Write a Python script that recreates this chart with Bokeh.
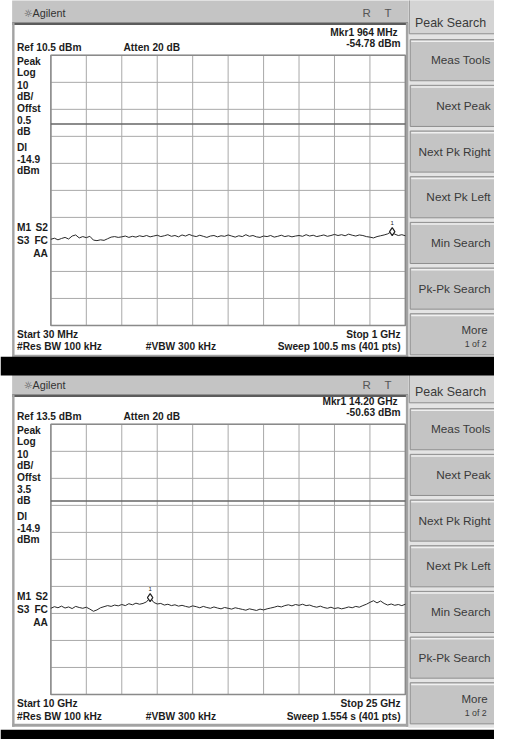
import numpy as np
from bokeh.plotting import figure
from bokeh.models import Range1d
from bokeh.core.properties import value
from bokeh.embed import file_html
from bokeh.resources import INLINE

# ---------------- data (read from the two analyzer screens) ----------------
start_mhz = [30.0, 10000.0]
stop_mhz = [1000.0, 25000.0]
ref_dbm = [10.5, 13.5]
db_per_div = [10.0, 10.0]
display_line_dbm = [-14.9, -14.9]
marker_mhz = [964.0, 14200.0]
marker_dbm = [-54.78, -50.63]

ref_labels = ["Ref 10.5 dBm", "Ref 13.5 dBm"]
atten_labels = ["Atten 20 dB", "Atten 20 dB"]
mkr_labels = ["Mkr1  964 MHz", "Mkr1  14.20 GHz"]
mkr_value_labels = ["-54.78 dBm", "-50.63 dBm"]
offset_labels = ["0.5", "3.5"]
start_labels = ["Start 30 MHz", "Start 10 GHz"]
stop_labels = ["Stop 1 GHz", "Stop 25 GHz"]
rbw_labels = ["#Res BW 100 kHz", "#Res BW 100 kHz"]
vbw_labels = ["#VBW 300 kHz", "#VBW 300 kHz"]
sweep_labels = ["Sweep 100.5 ms (401 pts)", "Sweep 1.554 s (401 pts)"]

trace1_dbm = [
    -57.6, -57.2, -57.8, -57.3, -56.9, -57.5, -56.4, -56.0, -57.1, -56.6,
    -57.0, -56.5, -57.9, -58.1, -57.8, -58.0, -57.4, -56.8, -56.6, -56.9,
    -56.7, -56.4, -56.9, -56.5, -56.8, -56.3, -56.6, -56.2, -56.7, -56.4,
    -56.1, -56.6, -56.3, -55.9, -56.5, -56.2, -56.7, -56.0, -56.4, -55.8,
    -56.3, -56.6, -56.1, -56.5, -56.9, -56.4, -56.2, -56.7, -56.3, -56.5,
    -56.0, -56.4, -56.8, -56.3, -56.6, -55.9, -56.5, -56.2, -56.7, -56.9,
    -56.4, -56.6, -56.2, -56.8, -56.5, -56.1, -56.6, -56.3, -56.7, -56.4,
    -56.2, -56.5, -55.9, -56.4, -56.1, -56.6, -56.3, -56.0, -56.5, -56.2,
    -55.8, -56.2, -55.9, -56.3, -55.7, -56.1, -56.4, -56.0, -56.2, -56.6,
    -56.8, -57.1, -56.6, -56.3, -56.0, -55.6, -54.8, -55.7, -56.2, -55.9,
    -56.3,
]
trace2_dbm = [
    -54.6, -54.0, -54.4, -53.8, -54.5, -54.1, -54.7, -53.9, -54.3, -54.6,
    -54.2, -54.9, -55.7, -55.2, -54.4, -54.0, -53.6, -53.9, -53.4, -53.7,
    -53.2, -53.6, -52.9, -53.3, -52.7, -53.1, -52.8, -52.2, -50.6, -52.4,
    -53.0, -52.8, -53.4, -53.1, -53.6, -53.3, -53.8, -53.5, -53.9, -54.2,
    -53.7, -54.0, -54.4, -53.9, -54.3, -54.6, -54.1, -54.5, -54.8, -54.3,
    -54.6, -54.9, -54.4, -54.7, -55.0, -55.3, -54.8, -55.1, -55.4, -54.9,
    -55.2, -54.8, -54.5, -54.2, -53.8, -54.1, -53.6, -53.3, -53.7, -53.2,
    -53.5, -53.1, -53.6, -53.4, -53.9, -54.2, -53.8, -54.3, -54.6, -54.2,
    -54.7, -54.4, -54.8, -54.5, -54.1, -54.4, -53.9, -54.2, -53.6, -53.1,
    -52.4, -51.8, -52.6, -51.9, -52.8, -53.4, -53.0, -53.5, -53.2, -53.6,
    -53.1,
]
traces = [trace1_dbm, trace2_dbm]

softkeys = ["Meas Tools", "Next Peak", "Next Pk Right", "Next Pk Left",
            "Min Search", "Pk-Pk Search"]
left_labels_top = ["Peak", "Log", "10", "dB/", "Offst"]
left_labels_dl = ["Dl", "-14.9", "dBm"]

# ---------------- layout (reference pixel space 510 x 755) ----------------
W, H = 510, 755
PW, PH = 494, 739
SCREEN_DY = [0, 377]
TITLE_Y = [13, 16]
GRID_L, GRID_R = 52, 418
GRID_T, GRID_B = 56, 332
BLACK_BANDS = [(364, 383), (745, 755)]

FONT = value("Liberation Sans")
ICON_FONT = value("DejaVu Sans")
TXT = "#1c1c1c"
BOLD_SIZE = 10.2
KEY_SIZE = 11.8

p = figure(width=PW, height=PH, x_range=Range1d(0, W), y_range=Range1d(H, 0),
           output_backend="svg", toolbar_location=None, min_border=0,
           background_fill_color="white", border_fill_color="white")
p.axis.visible = False
p.grid.visible = False
p.outline_line_color = None


def box(l, r, t, b, fill, line=None, lw=1):
    p.quad(left=l, right=r, top=t, bottom=b, fill_color=fill,
           line_color=line, line_width=lw)


def label(x, y, t, size=BOLD_SIZE, bold=True, align="left", color=TXT, font=FONT):
    p.text(x=[x], y=[y], text=[t], text_font=font, text_font_size=f"{size}px",
           text_font_style="bold" if bold else "normal", text_align=align,
           text_baseline="middle", text_color=color)


for k in range(2):
    dy = SCREEN_DY[k]
    ty = TITLE_Y[k]
    # frame of the screen
    box(0, W, dy - 10, dy + 366, "#ffffff")
    box(12, 421, dy - 10, dy + ty + 10, "#c4c4c4")
    box(12, 421, dy + ty + 9.5, dy + ty + 12, "#5c5c5c")
    box(12, 14.5, dy + ty + 10, dy + 365, "#a3a3a3")
    box(418.5, 422, dy + ty + 10, dy + 365, "#a3a3a3")
    box(12, 421, dy + 362, dy + 365, "#a3a3a3")
    # softkey panel
    box(421, W, dy - 10, dy + 366, "#e4e4e4")
    box(422, W + 2, dy - 10, dy + 34, "#d4d4d4", "#8f8f8f", 1)
    label(428, dy + 23, "Peak Search", size=12.4, bold=False, color="#3a3a3a")
    for i in range(7):
        bt = dy + 40 + i * 46.67
        box(423, W + 2, bt, bt + 42, "#c4c4c4", "#8e8e8e", 1)
        box(424, W + 2, bt + 1, bt + 2.5, "#f0f0f0")
        if i < 6:
            label(506, bt + 21, softkeys[i], size=KEY_SIZE, bold=False,
                  align="right", color="#3a3a3a")
        else:
            label(503, bt + 17, "More", size=11.5, bold=False, align="right",
                  color="#3a3a3a")
            label(502, bt + 31, "1 of 2", size=8.8, bold=False, align="right",
                  color="#3a3a3a")

    # title bar texts
    label(24, dy + ty, "\u263c", size=10, bold=False, color="#555555", font=ICON_FONT)
    label(33, dy + ty, "Agilent", size=10.8, bold=False, color="#333333")
    label(378, dy + ty, "R", size=11.5, bold=False, color="#555555", align="center")
    label(400, dy + ty, "T", size=11.5, bold=False, color="#555555", align="center")

    # annotation texts
    label(413, dy + 33, mkr_labels[k], align="right")
    label(413, dy + 44, mkr_value_labels[k], align="right")
    label(17, dy + 48, ref_labels[k])
    label(127, dy + 48, atten_labels[k])
    ys_top = [62, 74, 86, 98, 110]
    for t, yy in zip(left_labels_top, ys_top):
        label(17, dy + yy, t)
    label(17, dy + 122, offset_labels[k])
    label(17, dy + 134, "dB")
    for t, yy in zip(left_labels_dl, [150, 162, 174]):
        label(17, dy + yy, t)
    label(17, dy + 232, "M1")
    label(49, dy + 232, "S2", align="right")
    label(17, dy + 245, "S3")
    label(49, dy + 245, "FC", align="right")
    label(49, dy + 258, "AA", align="right")
    label(17, dy + 341, start_labels[k])
    label(17, dy + 354, rbw_labels[k])
    label(150, dy + 354, vbw_labels[k])
    label(413, dy + 341, stop_labels[k], align="right")
    label(413, dy + 354, sweep_labels[k], align="right")

    # data ranges mapped onto the graticule
    f0, f1 = start_mhz[k], stop_mhz[k]
    ref = ref_dbm[k]
    span_db = 10 * db_per_div[k]
    fx = lambda px: f0 + (px - GRID_L) / (GRID_R - GRID_L) * (f1 - f0)
    gy = lambda py: ref - (py - (dy + GRID_T)) / (GRID_B - GRID_T) * span_db
    xr, yr = f"f{k}", f"a{k}"
    p.extra_x_ranges[xr] = Range1d(fx(0), fx(W))
    p.extra_y_ranges[yr] = Range1d(gy(H), gy(0))

    vx = [f0 + (f1 - f0) * i / 10 for i in range(11)]
    hy = [ref - db_per_div[k] * i for i in range(11)]
    p.segment(x0=vx, x1=vx, y0=[ref] * 11, y1=[ref - span_db] * 11,
              line_color="#a9a9a9", line_width=1, x_range_name=xr, y_range_name=yr)
    p.segment(x0=[f0] * 11, x1=[f1] * 11, y0=hy, y1=hy,
              line_color="#a9a9a9", line_width=1, x_range_name=xr, y_range_name=yr)
    p.quad(left=[f0], right=[f1], top=[ref], bottom=[ref - span_db],
           fill_color=None, line_color="#8a8a8a", line_width=1.5,
           x_range_name=xr, y_range_name=yr)
    p.segment(x0=[f0], x1=[f1], y0=[display_line_dbm[k]], y1=[display_line_dbm[k]],
              line_color="#666666", line_width=1.6, x_range_name=xr, y_range_name=yr)

    tr = traces[k]
    freqs = np.linspace(f0, f1, len(tr))
    p.line(freqs, tr, line_color="#2a2a2a", line_width=1,
           x_range_name=xr, y_range_name=yr)
    p.scatter([marker_mhz[k]], [marker_dbm[k]], marker="diamond", size=8,
              fill_color="white", line_color="#222222", line_width=1.2,
              x_range_name=xr, y_range_name=yr)
    p.text(x=[marker_mhz[k]], y=[marker_dbm[k]], text=["1"], y_offset=-9,
           text_font=FONT, text_font_size="6px", text_align="center",
           text_baseline="middle", text_color="#222222",
           x_range_name=xr, y_range_name=yr)

for (a, b) in BLACK_BANDS:
    box(0, W, a, b, "#000000")

open("out.html", "w").write(file_html(p, INLINE))
